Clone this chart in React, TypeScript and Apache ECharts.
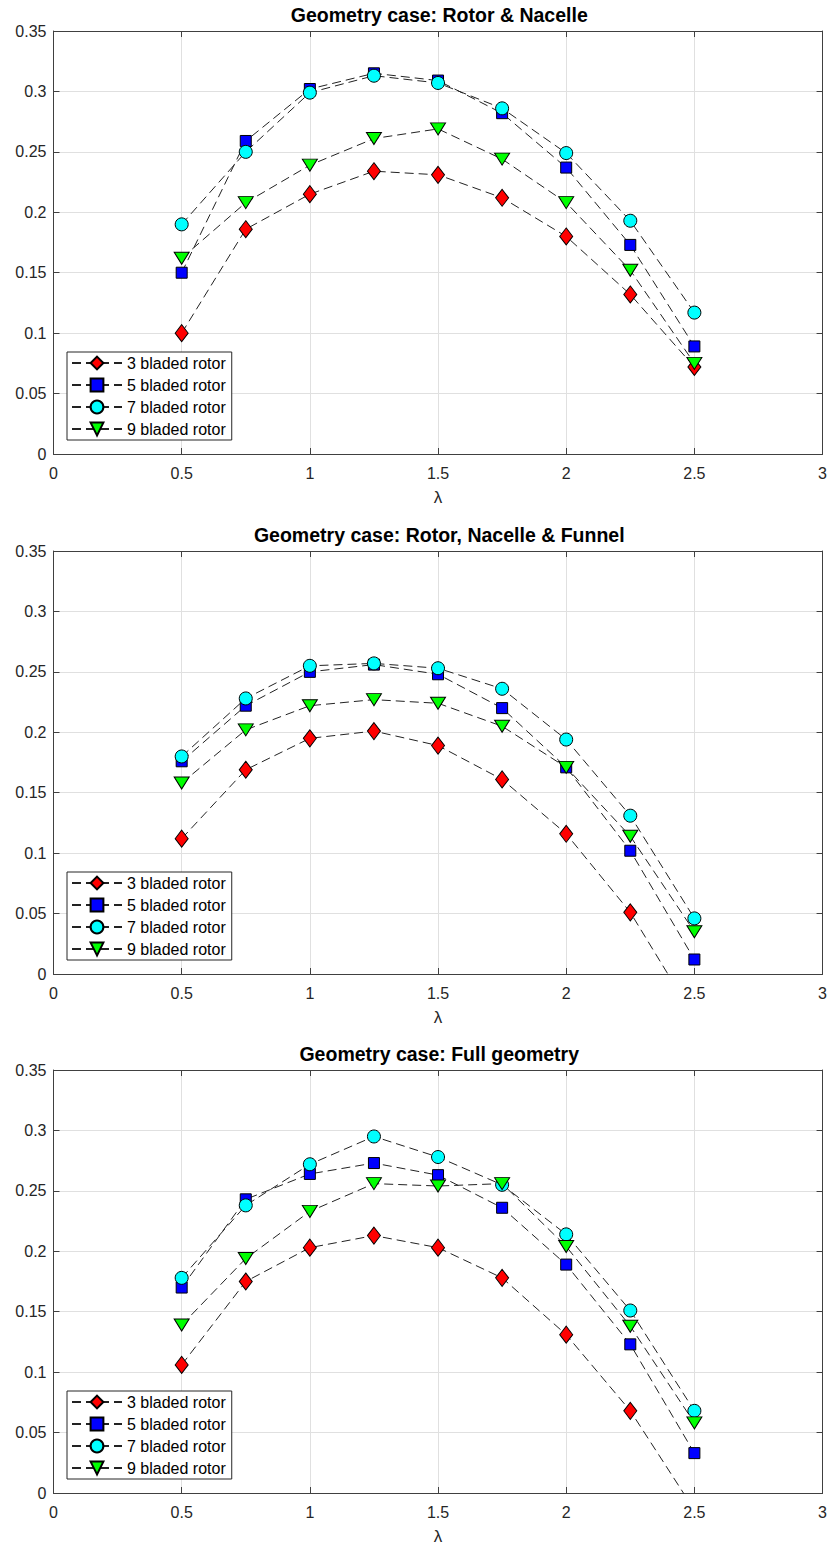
import React, { useEffect, useRef } from "react";
import * as echarts from "echarts";

const lambda = [0.5, 0.75, 1, 1.25, 1.5, 1.75, 2, 2.25, 2.5];
const seriesNames = ["3 bladed rotor", "5 bladed rotor", "7 bladed rotor", "9 bladed rotor"];
const titles = [
  "Geometry case: Rotor & Nacelle",
  "Geometry case: Rotor, Nacelle & Funnel",
  "Geometry case: Full geometry",
];

// Plot 1: Rotor & Nacelle
const nacelle3 = [0.1, 0.186, 0.215, 0.234, 0.231, 0.212, 0.18, 0.132, 0.072];
const nacelle5 = [0.15, 0.259, 0.302, 0.315, 0.309, 0.282, 0.237, 0.173, 0.089];
const nacelle7 = [0.19, 0.25, 0.299, 0.313, 0.307, 0.286, 0.249, 0.193, 0.117];
const nacelle9 = [0.162, 0.208, 0.239, 0.261, 0.269, 0.244, 0.208, 0.152, 0.075];

// Plot 2: Rotor, Nacelle & Funnel
const funnel3 = [0.112, 0.169, 0.195, 0.201, 0.189, 0.161, 0.116, 0.051, -0.036];
const funnel5 = [0.176, 0.222, 0.25, 0.256, 0.248, 0.22, 0.171, 0.102, 0.012];
const funnel7 = [0.18, 0.228, 0.255, 0.257, 0.253, 0.236, 0.194, 0.131, 0.046];
const funnel9 = [0.158, 0.202, 0.222, 0.227, 0.224, 0.205, 0.171, 0.114, 0.035];

// Plot 3: Full geometry
const full3 = [0.106, 0.175, 0.203, 0.213, 0.203, 0.178, 0.131, 0.068, -0.014];
const full5 = [0.17, 0.243, 0.264, 0.273, 0.263, 0.236, 0.189, 0.123, 0.033];
const full7 = [0.178, 0.238, 0.272, 0.295, 0.278, 0.255, 0.214, 0.151, 0.068];
const full9 = [0.139, 0.194, 0.233, 0.256, 0.254, 0.256, 0.204, 0.138, 0.058];

const plots = [
  [nacelle3, nacelle5, nacelle7, nacelle9],
  [funnel3, funnel5, funnel7, funnel9],
  [full3, full5, full7, full9],
];

const FONT = "'Liberation Sans', Arial, Helvetica, sans-serif";
const AXIS_COLOR = "#404040";
const TEXT_COLOR = "#262626";

const markers = [
  { symbol: "diamond", size: [13, 17], rotate: 0, color: "#ff0000" },
  { symbol: "rect", size: [11, 11], rotate: 0, color: "#0000ff" },
  { symbol: "circle", size: 13, rotate: 0, color: "#00ffff" },
  { symbol: "triangle", size: [15, 12], rotate: 180, color: "#00ff00" },
];

const gridLeft = 53.5;
const gridWidth = 771.5;
const gridTops = [31, 551, 1070];
const gridHeight = 423;

export default function App() {
  const ref = useRef<HTMLDivElement>(null);
  useEffect(() => {
    if (!ref.current) return;
    const chart = echarts.init(ref.current, undefined, { renderer: "svg" });

    const grid = gridTops.map((top) => ({ left: gridLeft, top, width: gridWidth, height: gridHeight }));
    const xAxis: any[] = [];
    const yAxis: any[] = [];
    const series: any[] = [];
    const legend: any[] = [];
    const graphic: any[] = [];

    gridTops.forEach((top, i) => {
      const axisLine = { show: true, onZero: false, lineStyle: { color: AXIS_COLOR, width: 1 } };
      const axisTick = { show: true, inside: true, length: 6, lineStyle: { color: AXIS_COLOR, width: 1 } };
      xAxis.push({
        gridIndex: i, type: "value", position: "bottom", min: 0, max: 3, interval: 0.5,
        axisLine, axisTick,
        axisLabel: { color: TEXT_COLOR, fontSize: 16, margin: 11, fontFamily: FONT },
        splitLine: { show: true, lineStyle: { color: "#e0e0e0", width: 1 } },
        name: "λ", nameLocation: "middle", nameGap: 35,
        nameTextStyle: { fontSize: 17, color: TEXT_COLOR, fontFamily: FONT },
      });
      xAxis.push({
        gridIndex: i, type: "value", position: "top", min: 0, max: 3, interval: 0.5,
        axisLine, axisTick, axisLabel: { show: false }, splitLine: { show: false },
      });
      yAxis.push({
        gridIndex: i, type: "value", position: "left", min: 0, max: 0.35, interval: 0.05,
        axisLine, axisTick,
        axisLabel: {
          color: TEXT_COLOR, fontSize: 16, margin: 7, fontFamily: FONT,
          formatter: (v: number) => String(+v.toFixed(2)),
        },
        splitLine: { show: true, lineStyle: { color: "#e0e0e0", width: 1 } },
      });
      yAxis.push({
        gridIndex: i, type: "value", position: "right", min: 0, max: 0.35, interval: 0.05,
        axisLine, axisTick, axisLabel: { show: false }, splitLine: { show: false },
      });

      plots[i].forEach((vals, k) => {
        const m = markers[k];
        series.push({
          type: "line",
          name: seriesNames[k],
          xAxisIndex: 2 * i,
          yAxisIndex: 2 * i,
          data: lambda.map((x, j) => [x, vals[j]]),
          symbol: m.symbol,
          symbolSize: m.size,
          symbolRotate: m.rotate,
          showAllSymbol: true,
          clip: true,
          itemStyle: { color: m.color, borderColor: "#000", borderWidth: 1 },
          lineStyle: { color: "#222222", width: 1, type: [9, 5] },
          emphasis: { disabled: true },
        });
      });

      legend.push({
        orient: "vertical",
        left: 67,
        top: top + 321,
        data: seriesNames,
        selectedMode: false,
        backgroundColor: "#ffffff",
        borderColor: "#262626",
        borderWidth: 1,
        borderRadius: 0,
        padding: [3, 6, 3, 4],
        itemWidth: 50,
        itemHeight: 16,
        itemGap: 6,
        textStyle: { fontSize: 16, color: "#000", fontFamily: FONT },
      });

      graphic.push({
        type: "text",
        x: gridLeft + gridWidth / 2,
        y: top - 16,
        style: {
          text: titles[i],
          align: "center",
          verticalAlign: "middle",
          font: `bold 19.5px ${FONT}`,
          fill: "#000",
        },
      });
    });

    chart.setOption({
      animation: false,
      backgroundColor: "#ffffff",
      textStyle: { fontFamily: FONT },
      grid,
      xAxis,
      yAxis,
      series,
      legend,
      graphic,
    });
    return () => chart.dispose();
  }, []);

  return (
    <div
      ref={ref}
      style={{ position: "absolute", left: 0, top: 0, width: 830, height: 1548, background: "#fff" }}
    />
  );
}
